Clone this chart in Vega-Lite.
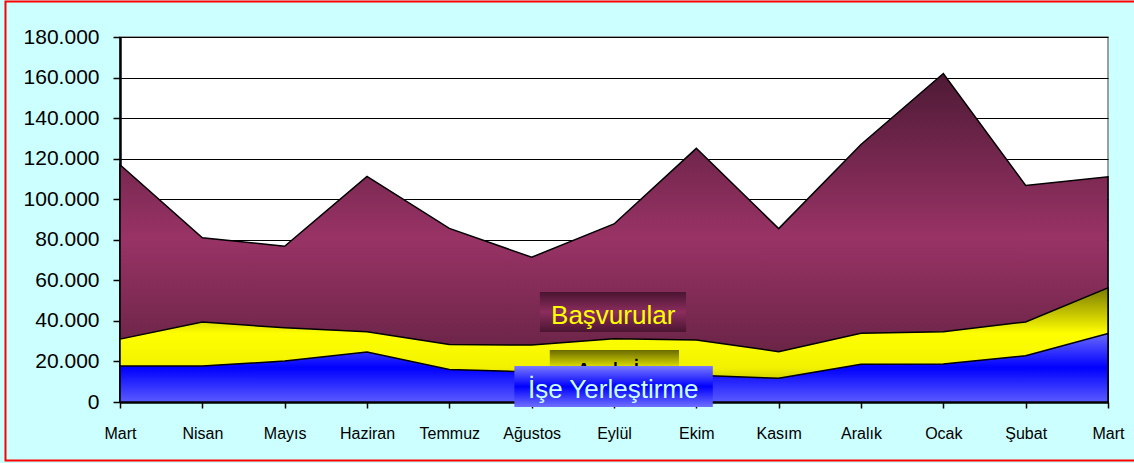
{
  "$schema": "https://vega.github.io/schema/vega-lite/v6.json",
  "width": 988,
  "height": 365,
  "autosize": {"type": "none"},
  "padding": {"left": 120, "top": 37, "right": 26, "bottom": 61},
  "background": "#CCFFFF",
  "config": {
    "font": "Liberation Sans",
    "view": {"fill": "white", "stroke": "#808080", "strokeWidth": 1.5},
    "axisX": {
      "labelFlush": false, "labelOverlap": false, "grid": false,
      "domainColor": "black", "domainWidth": 2.5,
      "tickColor": "black", "tickWidth": 1.5, "tickSize": 6,
      "labelFontSize": 16, "labelColor": "black", "labelPadding": 17,
      "labelFont": "Liberation Sans"
    },
    "axisY": {
      "grid": true, "gridColor": "black", "gridWidth": 1.2,
      "domainColor": "black", "domainWidth": 2.5,
      "tickColor": "black", "tickWidth": 1.5, "tickSize": 7,
      "labelFontSize": 21, "labelColor": "black", "labelPadding": 14,
      "labelFont": "Liberation Sans"
    }
  },
  "datasets": {
    "aylar": [
      {"i": 0, "ay": "Mart", "basvuru": 117000, "acik": 31000, "yerlestirme": 17700},
      {"i": 1, "ay": "Nisan", "basvuru": 81000, "acik": 39400, "yerlestirme": 17700},
      {"i": 2, "ay": "Mayıs", "basvuru": 76800, "acik": 36600, "yerlestirme": 20200},
      {"i": 3, "ay": "Haziran", "basvuru": 111300, "acik": 34600, "yerlestirme": 24700},
      {"i": 4, "ay": "Temmuz", "basvuru": 85600, "acik": 28300, "yerlestirme": 16000},
      {"i": 5, "ay": "Ağustos", "basvuru": 71400, "acik": 28100, "yerlestirme": 14800},
      {"i": 6, "ay": "Eylül", "basvuru": 87800, "acik": 31200, "yerlestirme": 13900},
      {"i": 7, "ay": "Ekim", "basvuru": 125100, "acik": 30600, "yerlestirme": 13200},
      {"i": 8, "ay": "Kasım", "basvuru": 85500, "acik": 24800, "yerlestirme": 11700},
      {"i": 9, "ay": "Aralık", "basvuru": 127000, "acik": 33900, "yerlestirme": 18600},
      {"i": 10, "ay": "Ocak", "basvuru": 162000, "acik": 34600, "yerlestirme": 18700},
      {"i": 11, "ay": "Şubat", "basvuru": 106800, "acik": 39500, "yerlestirme": 22800},
      {"i": 12, "ay": "Mart", "basvuru": 111100, "acik": 56300, "yerlestirme": 33800}
    ]
  },
  "data": {"name": "aylar"},
  "layer": [
    {
      "data": {"values": [{"cerceve": 1}]},
      "mark": {"type": "rect", "clip": false, "fill": null, "fillOpacity": 0, "stroke": "#FF0000", "strokeWidth": 2},
      "encoding": {
        "x": {"datum": -1.391, "type": "quantitative", "title": null},
        "x2": {"datum": 12.4},
        "y": {"datum": 197500, "type": "quantitative", "title": null},
        "y2": {"datum": -28850}
      }
    },
    {
      "mark": {
        "type": "area",
        "stroke": "black",
        "strokeWidth": 1.5,
        "fill": {"gradient": "linear", "x1": 0, "y1": 0, "x2": 0, "y2": 1,
          "stops": [
            {"offset": 0, "color": "#4e1a35"},
            {"offset": 0.5, "color": "#993366"},
            {"offset": 0.85, "color": "#6a2446"},
            {"offset": 1, "color": "#4e1a35"}
          ]}
      },
      "encoding": {
        "x": {
          "field": "i", "type": "quantitative", "title": null,
          "scale": {"domain": [0, 12], "nice": false, "zero": false},
          "axis": {
            "values": [0,1,2,3,4,5,6,7,8,9,10,11,12],
            "labelExpr": "['Mart','Nisan','Mayıs','Haziran','Temmuz','Ağustos','Eylül','Ekim','Kasım','Aralık','Ocak','Şubat','Mart'][datum.value]"
          }
        },
        "y": {
          "field": "basvuru", "type": "quantitative", "title": null,
          "scale": {"domain": [0, 180000], "nice": false},
          "axis": {
            "values": [0,20000,40000,60000,80000,100000,120000,140000,160000,180000],
            "labelExpr": "replace(format(datum.value, ','), ',', '.')"
          }
        }
      }
    },
    {
      "mark": {
        "type": "area",
        "stroke": "black",
        "strokeWidth": 1.5,
        "fill": {"gradient": "linear", "x1": 0, "y1": 0, "x2": 0, "y2": 1,
          "stops": [
            {"offset": 0, "color": "#7a7a00"},
            {"offset": 0.4, "color": "#ffff00"},
            {"offset": 0.7, "color": "#f2f200"},
            {"offset": 1, "color": "#8a8a00"}
          ]}
      },
      "encoding": {
        "x": {"field": "i", "type": "quantitative", "title": null},
        "y": {"field": "acik", "type": "quantitative", "title": null}
      }
    },
    {
      "mark": {
        "type": "area",
        "stroke": "black",
        "strokeWidth": 1.5,
        "fill": {"gradient": "linear", "x1": 0, "y1": 0, "x2": 0, "y2": 1,
          "stops": [
            {"offset": 0, "color": "#6a6aff"},
            {"offset": 0.5, "color": "#0000ff"},
            {"offset": 1, "color": "#5a5aff"}
          ]}
      },
      "encoding": {
        "x": {"field": "i", "type": "quantitative", "title": null},
        "y": {"field": "yerlestirme", "type": "quantitative", "title": null}
      }
    },
    {
      "data": {"values": [{"etiket": "Başvurular"}]},
      "mark": {
        "type": "rect", "clip": false,
        "fill": {"gradient": "linear", "x1": 0, "y1": 0, "x2": 0, "y2": 1,
          "stops": [
            {"offset": 0, "color": "#4a1530"},
            {"offset": 0.5, "color": "#8c2d5e"},
            {"offset": 1, "color": "#4a1530"}
          ]}
      },
      "encoding": {
        "x": {"datum": 5.1, "type": "quantitative", "title": null},
        "x2": {"datum": 6.875},
        "y": {"datum": 54200, "type": "quantitative", "title": null},
        "y2": {"datum": 34500}
      }
    },
    {
      "data": {"values": [{"etiket": "Başvurular"}]},
      "mark": {"type": "text", "fontSize": 26, "fill": "#FFFF00", "align": "center", "baseline": "alphabetic", "font": "Liberation Sans"},
      "encoding": {
        "text": {"field": "etiket"},
        "x": {"datum": 5.99, "type": "quantitative", "title": null},
        "y": {"datum": 38500, "type": "quantitative", "title": null}
      }
    },
    {
      "data": {"values": [{"etiket": "Açık İş"}]},
      "mark": {
        "type": "rect", "clip": false,
        "fill": {"gradient": "linear", "x1": 0, "y1": 0, "x2": 0, "y2": 1,
          "stops": [
            {"offset": 0, "color": "#6b6b00"},
            {"offset": 0.6, "color": "#e6e600"},
            {"offset": 1, "color": "#ffff00"}
          ]}
      },
      "encoding": {
        "x": {"datum": 5.22, "type": "quantitative", "title": null},
        "x2": {"datum": 6.79},
        "y": {"datum": 25600, "type": "quantitative", "title": null},
        "y2": {"datum": 10800}
      }
    },
    {
      "data": {"values": [{"etiket": "Açık İş"}]},
      "mark": {"type": "text", "fontSize": 26, "fill": "black", "align": "center", "baseline": "alphabetic", "font": "Liberation Sans"},
      "encoding": {
        "text": {"field": "etiket"},
        "x": {"datum": 6.0, "type": "quantitative", "title": null},
        "y": {"datum": 10400, "type": "quantitative", "title": null}
      }
    },
    {
      "data": {"values": [{"etiket": "İşe Yerleştirme"}]},
      "mark": {
        "type": "rect", "clip": false,
        "fill": {"gradient": "linear", "x1": 0, "y1": 0, "x2": 0, "y2": 1,
          "stops": [
            {"offset": 0, "color": "#7a7aff"},
            {"offset": 0.5, "color": "#0000ff"},
            {"offset": 1, "color": "#7070ff"}
          ]}
      },
      "encoding": {
        "x": {"datum": 4.79, "type": "quantitative", "title": null},
        "x2": {"datum": 7.2},
        "y": {"datum": 17750, "type": "quantitative", "title": null},
        "y2": {"datum": -2500}
      }
    },
    {
      "data": {"values": [{"etiket": "İşe Yerleştirme"}]},
      "mark": {"type": "text", "fontSize": 26, "fill": "#CCFFFF", "align": "center", "baseline": "alphabetic", "font": "Liberation Sans"},
      "encoding": {
        "text": {"field": "etiket"},
        "x": {"datum": 5.99, "type": "quantitative", "title": null},
        "y": {"datum": 2100, "type": "quantitative", "title": null}
      }
    }
  ]
}
